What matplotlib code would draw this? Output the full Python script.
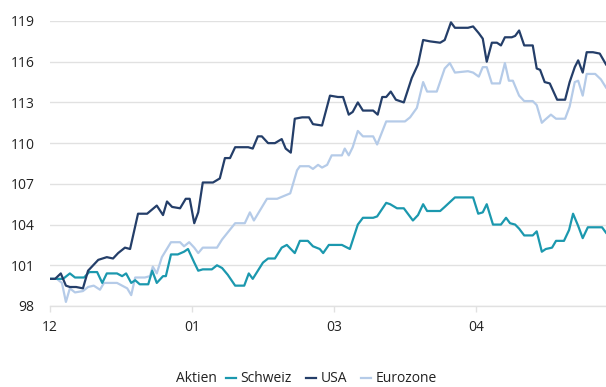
import matplotlib.pyplot as plt

plt.rcParams['font.family'] = ['Open Sans', 'DejaVu Sans']

# Wochen seit Start (x) und indexierte Kurse, je Serie
t_ch = [0.0, 2.3, 3.5, 4.4, 6.0, 6.9, 8.3, 9.2, 10.0, 11.8, 12.7, 13.4, 14.3, 15.0, 15.8, 17.3, 18.0, 18.8,
        19.9, 20.4, 21.3, 22.5, 23.6, 24.3, 25.4, 26.1, 26.9, 28.5, 29.4, 30.3, 31.3, 32.6, 34.2, 35.0,
        35.7, 37.5, 38.4, 39.6, 40.8, 41.7, 43.1, 44.0, 45.4, 46.3, 47.5, 48.1, 49.1, 51.4, 52.8, 54.2,
        55.1, 56.9, 57.6, 59.2, 59.9, 61.1, 62.3, 63.9, 64.8, 65.7, 66.4, 68.7, 69.5, 71.3, 74.5, 75.4,
        76.2, 76.9, 78.0, 79.4, 80.3, 81.0, 81.9, 82.6, 83.5, 85.0, 85.7, 86.6, 87.3, 88.4, 89.1, 90.5,
        91.4, 92.1, 93.0, 93.8, 94.7, 97.2, 97.9]
schweiz = [100.0, 100.0, 100.4, 100.1, 100.1, 100.5, 100.5, 99.7, 100.4, 100.4, 100.2, 100.4, 99.7, 99.9,
           99.6, 99.6, 100.6, 99.7, 100.2, 100.2, 101.8, 101.8, 102.0, 102.2, 101.2, 100.6, 100.7, 100.7,
           101.0, 100.8, 100.3, 99.5, 99.5, 100.4, 100.0, 101.2, 101.5, 101.5, 102.3, 102.5, 101.9, 102.8,
           102.8, 102.4, 102.2, 101.9, 102.5, 102.5, 102.2, 104.0, 104.5, 104.5, 104.6, 105.6, 105.5, 105.2,
           105.2, 104.3, 104.7, 105.5, 105.0, 105.0, 105.3, 106.0, 106.0, 104.8, 104.9, 105.5, 104.0, 104.0,
           104.5, 104.1, 104.0, 103.7, 103.2, 103.2, 103.5, 102.0, 102.2, 102.3, 102.8, 102.8, 103.6, 104.8,
           103.9, 103.0, 103.8, 103.8, 103.4]

t_us = [0.0, 0.9, 1.9, 2.8, 3.5, 4.6, 5.8, 6.7, 8.5, 10.0, 11.1, 12.0, 13.2, 14.1, 15.5, 17.1, 18.8, 19.9,
        20.6, 21.5, 22.9, 23.9, 24.6, 25.4, 26.1, 26.9, 28.7, 29.9, 30.8, 31.7, 32.6, 34.9, 35.7, 36.6,
        37.3, 38.4, 39.6, 40.8, 41.5, 42.4, 43.1, 44.4, 45.6, 46.3, 47.9, 49.3, 50.7, 51.6, 52.6, 53.3,
        54.2, 55.1, 56.9, 57.7, 58.5, 59.2, 60.0, 60.9, 62.3, 63.7, 64.8, 65.7, 66.9, 68.7, 69.5, 70.6,
        71.3, 73.6, 74.5, 75.5, 76.2, 76.9, 77.8, 78.7, 79.4, 80.1, 81.3, 81.9, 82.6, 83.5, 85.0, 85.7,
        86.3, 87.1, 88.0, 89.3, 90.7, 91.5, 92.4, 93.0, 93.8, 94.5, 95.6, 96.8, 97.9]
usa = [100.0, 100.0, 100.4, 99.5, 99.4, 99.4, 99.3, 100.6, 101.4, 101.6, 101.5, 101.9, 102.3, 102.2, 104.8,
       104.8, 105.4, 104.7, 105.7, 105.3, 105.2, 105.9, 105.9, 104.1, 104.9, 107.1, 107.1, 107.4, 108.9,
       108.9, 109.7, 109.7, 109.6, 110.5, 110.5, 110.0, 110.0, 110.3, 109.6, 109.3, 111.8, 111.9, 111.9,
       111.4, 111.3, 113.5, 113.4, 113.4, 112.1, 112.3, 113.0, 112.4, 112.4, 112.1, 113.4, 113.4, 113.8,
       113.2, 113.0, 114.8, 115.8, 117.6, 117.5, 117.4, 117.6, 118.9, 118.5, 118.5, 118.6, 118.1, 117.7,
       116.0, 117.4, 117.4, 117.2, 117.8, 117.8, 117.9, 118.3, 117.2, 117.2, 115.5, 115.4, 114.5, 114.4,
       113.2, 113.2, 114.5, 115.6, 116.1, 115.2, 116.7, 116.7, 116.6, 115.8]

t_eu = [0.0, 1.2, 2.1, 2.8, 3.5, 4.4, 5.8, 6.7, 7.7, 8.8, 9.5, 11.8, 12.7, 13.6, 14.3, 15.0, 16.7, 17.6,
        18.1, 18.8, 19.7, 21.3, 22.9, 23.6, 24.5, 25.4, 26.1, 26.9, 29.4, 30.3, 32.6, 34.3, 35.2, 35.9,
        38.2, 40.0, 42.3, 43.5, 44.0, 45.6, 46.3, 47.2, 47.9, 48.8, 49.6, 51.4, 51.9, 52.6, 53.3, 54.2,
        55.1, 56.9, 57.6, 59.2, 62.5, 63.4, 64.6, 65.7, 66.4, 68.1, 69.5, 70.4, 71.3, 73.6, 74.5, 75.5,
        76.2, 76.9, 77.8, 79.2, 80.1, 80.8, 81.5, 82.6, 83.5, 85.0, 85.7, 86.6, 87.1, 88.2, 89.1, 90.7,
        91.5, 92.4, 93.0, 93.8, 94.5, 96.0, 97.0, 97.9]
eurozone = [100.0, 100.0, 99.7, 98.3, 99.3, 99.0, 99.1, 99.4, 99.5, 99.2, 99.7, 99.7, 99.5, 99.3, 98.8,
            100.1, 100.1, 100.2, 100.9, 100.4, 101.6, 102.7, 102.7, 102.4, 102.7, 102.3, 101.9, 102.3, 102.3,
            102.9, 104.1, 104.1, 104.9, 104.3, 105.9, 105.9, 106.3, 108.0, 108.3, 108.3, 108.1, 108.4, 108.2,
            108.4, 109.1, 109.1, 109.6, 109.1, 109.7, 110.9, 110.5, 110.5, 109.9, 111.6, 111.6, 111.9, 112.6,
            114.5, 113.8, 113.8, 115.5, 115.9, 115.2, 115.3, 115.2, 114.9, 115.6, 115.6, 114.4, 114.4, 115.9,
            114.6, 114.6, 113.5, 113.1, 113.1, 112.8, 111.5, 111.7, 112.1, 111.8, 111.8, 112.7, 114.5, 114.6,
            113.5, 115.1, 115.1, 114.7, 114.1]

tick_pos = [0, 25, 50, 75]
tick_labels = ['12', '01', '03', '04']
y_ticks = [98, 101, 104, 107, 110, 113, 116, 119]

c_ch, c_us, c_eu = '#1b98ae', '#243e69', '#b5cbe8'
grid_c = '#e1e1e1'

fig = plt.figure(figsize=(6.06, 3.87), dpi=100)
ax = fig.add_axes([50 / 606, 81 / 387, 556 / 606, 285 / 387])

ax.plot(t_eu, eurozone, color=c_eu, lw=1.6, label='Eurozone', zorder=3)
ax.plot(t_ch, schweiz, color=c_ch, lw=1.6, label='Schweiz', zorder=4)
ax.plot(t_us, usa, color=c_us, lw=1.6, label='USA', zorder=5)

ax.set_xlim(0, 97.9)
ax.set_ylim(98, 119)
ax.set_yticks(y_ticks)
ax.set_xticks(tick_pos)
ax.set_xticklabels(tick_labels)
ax.yaxis.grid(True, color=grid_c, lw=1.0)
ax.set_axisbelow(True)
for s in ['top', 'right', 'left']:
    ax.spines[s].set_visible(False)
ax.spines['bottom'].set_color(grid_c)
ax.spines['bottom'].set_linewidth(1.0)
ax.tick_params(axis='y', length=0, pad=11, labelsize=10, labelcolor='#222222')
ax.tick_params(axis='x', length=4, width=1.0, color=grid_c, pad=6, labelsize=10, labelcolor='#222222')

# Legende unten: "Aktien" + Serien
fig.text(176 / 606, 1 - 379 / 387, 'Aktien', fontsize=10, color='#222222', va='center', ha='left')
h = {l.get_label(): l for l in ax.get_lines()}
leg = fig.legend([h['Schweiz'], h['USA'], h['Eurozone']], ['Schweiz', 'USA', 'Eurozone'],
                 loc='center left', bbox_to_anchor=(226 / 606, 1 - 379 / 387), ncol=3, frameon=False,
                 fontsize=10, handlelength=0.7, handletextpad=0.35, columnspacing=1.0,
                 borderaxespad=0, borderpad=0)
for t in leg.get_texts():
    t.set_color('#222222')

fig.savefig('out.png', dpi=100)
